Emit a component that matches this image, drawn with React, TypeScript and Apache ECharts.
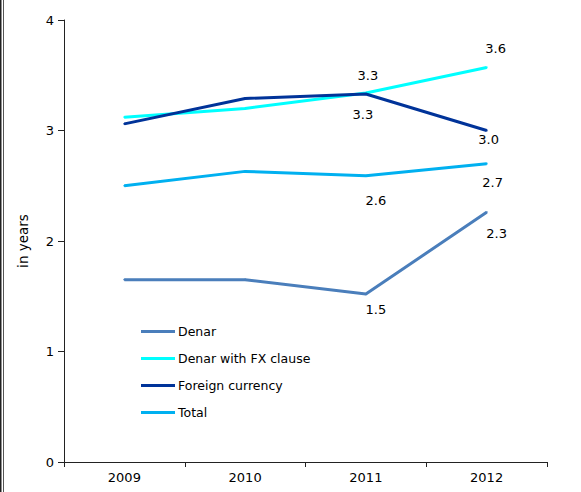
import React, { useEffect, useRef } from "react";
import * as echarts from "echarts";

const categories = ["2009", "2010", "2011", "2012"];
const denar = [1.65, 1.65, 1.52, 2.26];
const denarFx = [3.12, 3.2, 3.34, 3.57];
const foreignCurrency = [3.06, 3.29, 3.33, 3.0];
const total = [2.5, 2.63, 2.59, 2.7];
const seriesNames = ["Denar", "Denar with FX clause", "Foreign currency", "Total"];
const colors = ["#4a7ebb", "#00ffff", "#003399", "#00b0f0"];

// label offsets for the 2011 and 2012 points
const labelOffsets: Record<string, [number, number][]> = {
  "Denar": [[10, 15], [10, 21]],
  "Denar with FX clause": [[2, -17], [9, -19]],
  "Foreign currency": [[-3, 20], [2, 9]],
  "Total": [[10, 25], [6, 19]],
};

const FONT = "DejaVu Sans";

function buildData(name: string, values: number[]) {
  return values.map((v, i) => {
    if (i < 2) return { value: v };
    const off = labelOffsets[name][i - 2];
    return {
      value: v,
      label: {
        show: true,
        position: "inside",
        offset: off,
        formatter: (p: any) => Number(p.value).toFixed(1),
        color: "#000",
        fontFamily: FONT,
        fontSize: 13,
      },
    };
  });
}

export default function App() {
  const ref = useRef<HTMLDivElement>(null);
  useEffect(() => {
    if (!ref.current) return;
    const chart = echarts.init(ref.current, null, { renderer: "svg" });
    const valuesList = [denar, denarFx, foreignCurrency, total];
    chart.setOption({
      animation: false,
      backgroundColor: "#fff",
      textStyle: { fontFamily: FONT },
      grid: { left: 64, right: 34, top: 20, bottom: 30, containLabel: false },
      legend: {
        orient: "vertical",
        left: 136,
        top: 320,
        itemWidth: 34,
        itemHeight: 14,
        itemGap: 14,
        icon: "path://M0,6 L34,6 L34,9 L0,9 Z",
        textStyle: { fontFamily: FONT, fontSize: 12.5, color: "#000", padding: [0, 0, 0, -2] },
        data: seriesNames,
      },
      xAxis: {
        type: "category",
        data: categories,
        boundaryGap: true,
        axisLine: { lineStyle: { color: "#222", width: 1 } },
        axisTick: { show: true, length: 5, inside: false, lineStyle: { color: "#222" } },
        axisLabel: { color: "#000", fontFamily: FONT, fontSize: 13, margin: 9 },
      },
      yAxis: {
        type: "value",
        min: 0,
        max: 4,
        interval: 1,
        name: "in years",
        nameLocation: "middle",
        nameGap: 34,
        nameRotate: 90,
        nameTextStyle: { color: "#000", fontFamily: FONT, fontSize: 13.5 },
        axisLine: { show: true, lineStyle: { color: "#222", width: 1 } },
        axisTick: { show: true, length: 6, lineStyle: { color: "#222" } },
        splitLine: { show: false },
        axisLabel: { color: "#000", fontFamily: FONT, fontSize: 13, margin: 10 },
      },
      series: seriesNames.map((name, i) => ({
        name,
        type: "line",
        data: buildData(name, valuesList[i]),
        symbol: "circle",
        symbolSize: 2,
        showSymbol: true,
        itemStyle: { color: colors[i] },
        lineStyle: { color: colors[i], width: 3 },
        emphasis: { disabled: true },
        z: 2 + (i === 2 ? 1 : 0),
      })),
      graphic: [
        { type: "rect", left: 0, top: 0, shape: { x: 0, y: 0, width: 1.5, height: 492 }, style: { fill: "#222" } },
        { type: "rect", left: 3, top: 0, shape: { x: 0, y: 0, width: 1, height: 492 }, style: { fill: "#555" } },
      ],
    });
    return () => chart.dispose();
  }, []);
  return <div ref={ref} style={{ width: 581, height: 492, position: "absolute", left: 0, top: 0 }} />;
}
